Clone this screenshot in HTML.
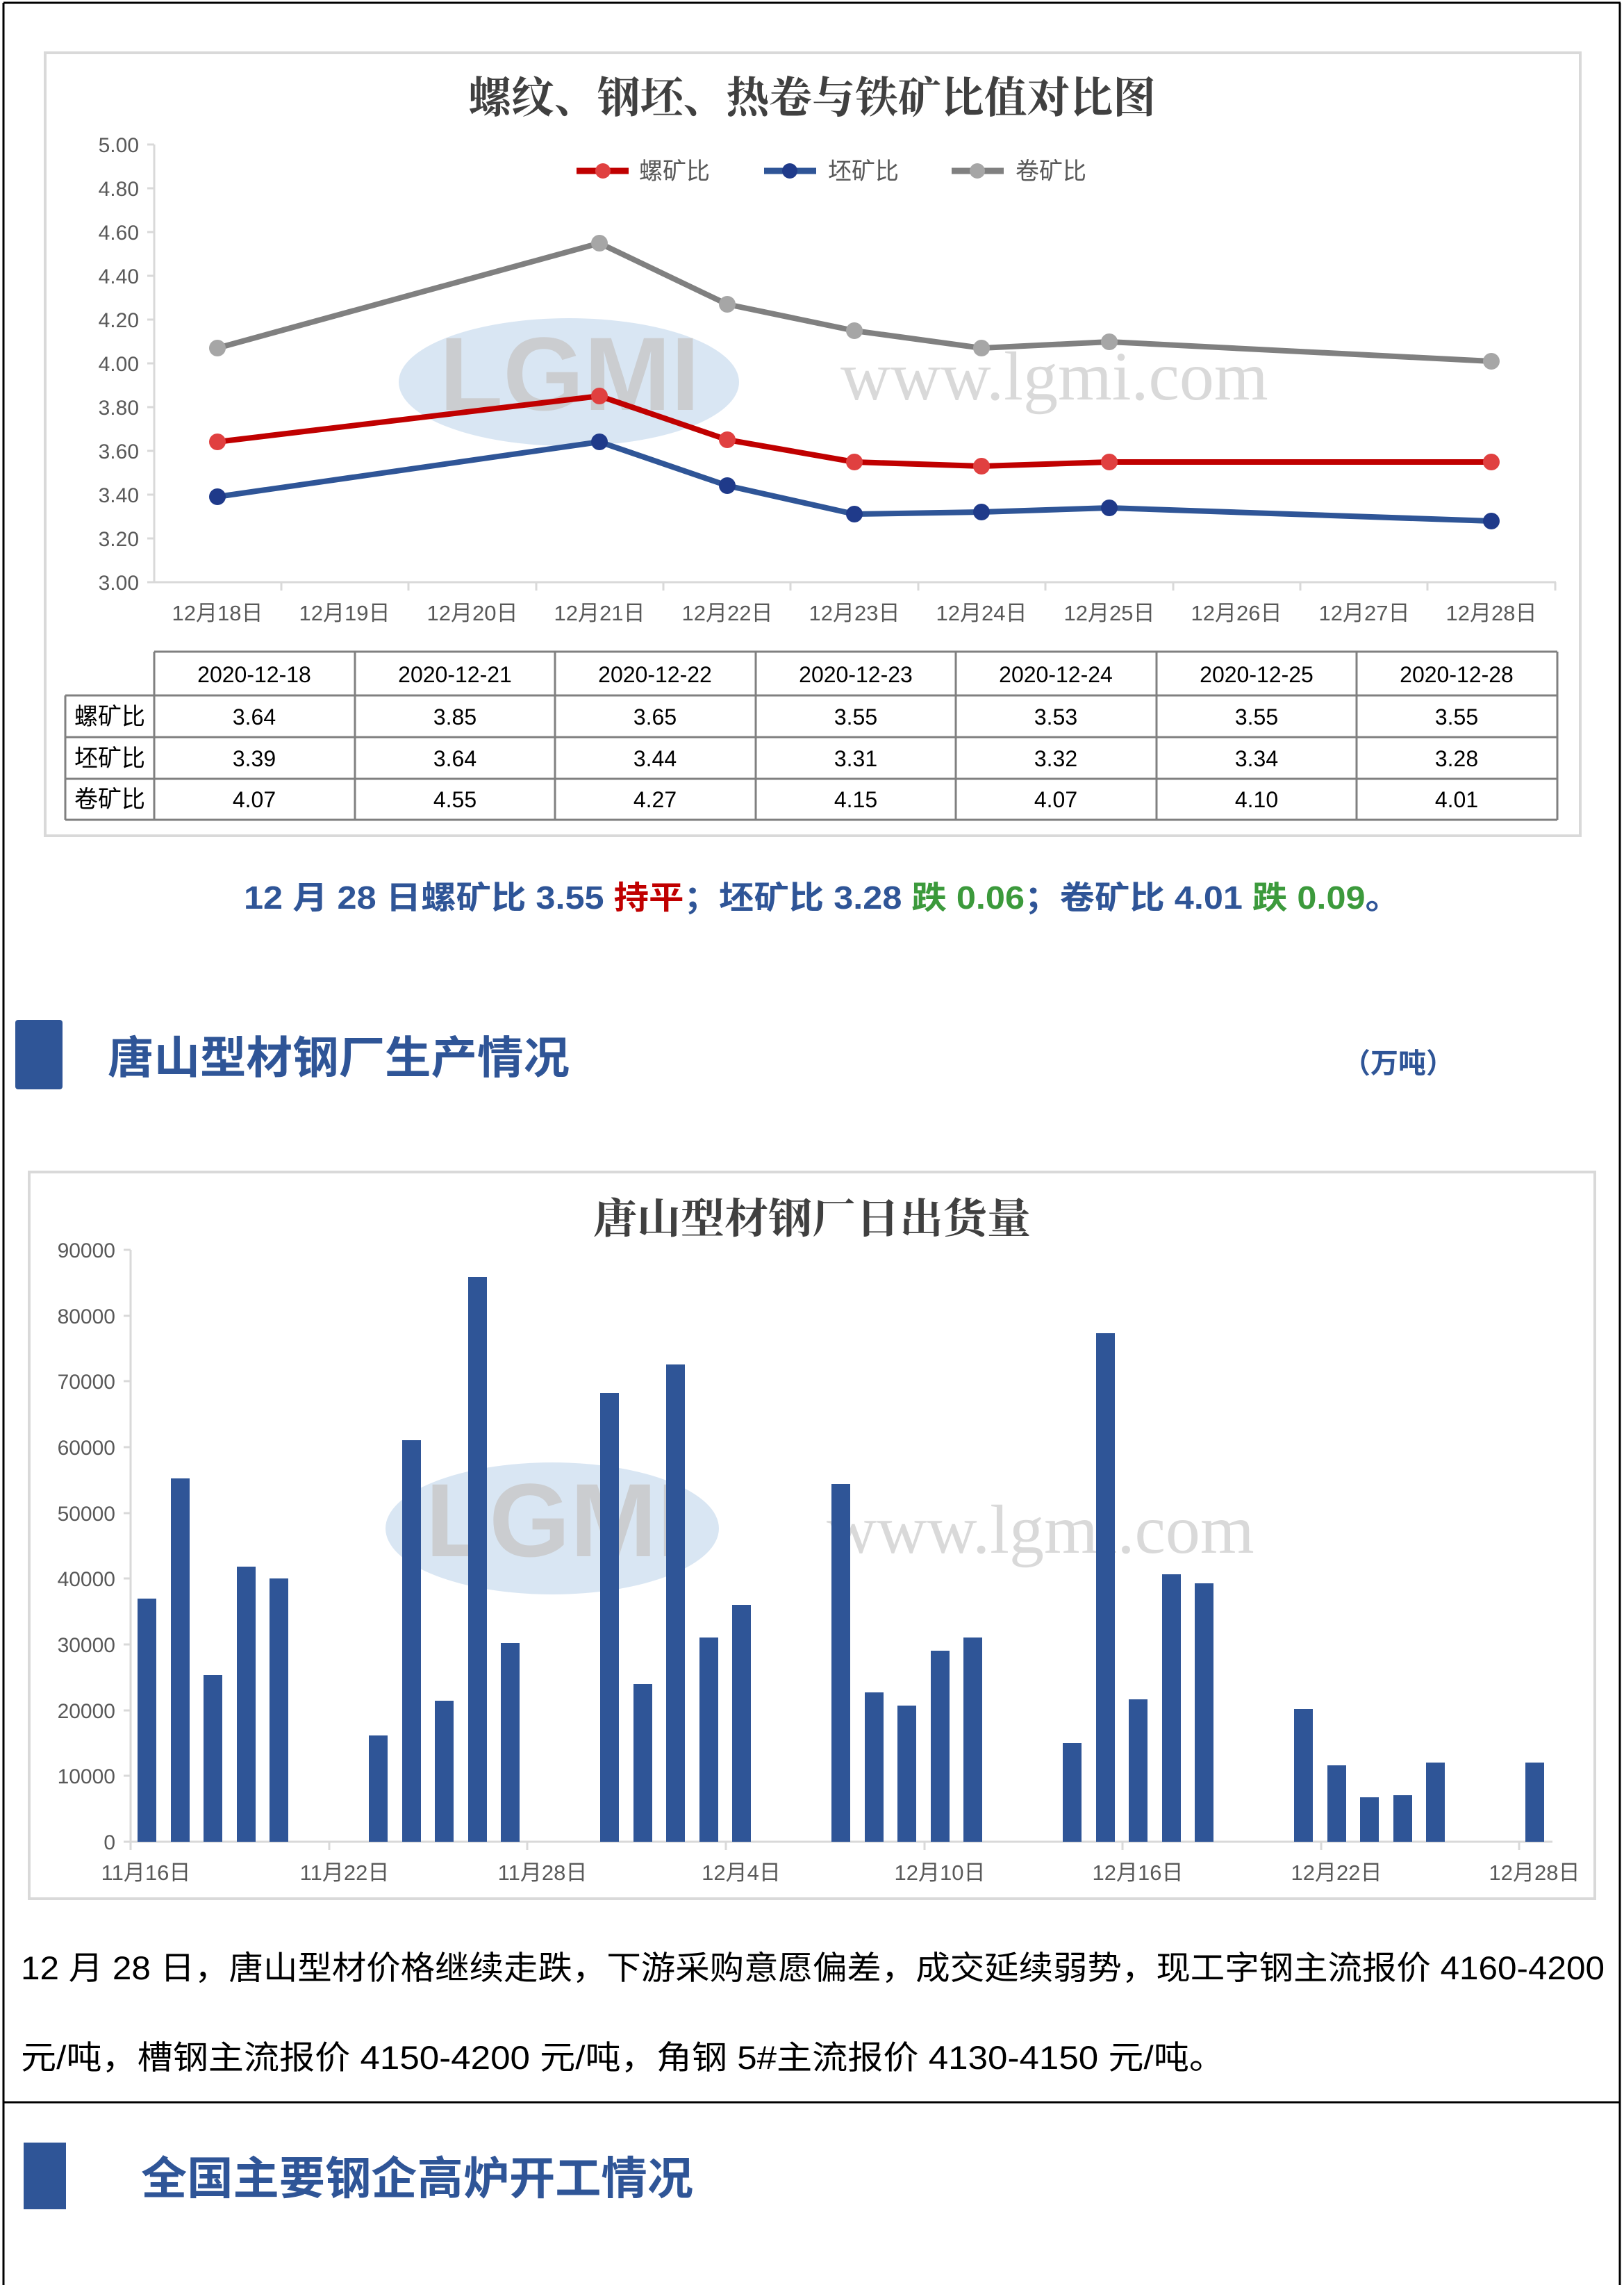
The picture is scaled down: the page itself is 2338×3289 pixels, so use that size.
<!DOCTYPE html>
<html><head><meta charset="utf-8"><style>
html,body{margin:0;padding:0;background:#fff;}
svg{display:block;}
</style></head><body>
<svg width="2338" height="3289" viewBox="0 0 2338 3289" xmlns="http://www.w3.org/2000/svg" font-family="Liberation Sans, Noto Sans CJK SC, sans-serif">
<line x1="5" y1="4" x2="2333" y2="4" stroke="#000" stroke-width="3"/>
<line x1="5" y1="4" x2="5" y2="3289" stroke="#000" stroke-width="3"/>
<line x1="2332" y1="4" x2="2332" y2="3289" stroke="#000" stroke-width="3"/>
<line x1="5" y1="3026" x2="2333" y2="3026" stroke="#000" stroke-width="3"/>

<!-- CHART 1 -->
<rect x="65" y="76" width="2210" height="1127" fill="#fff" stroke="#d9d9d9" stroke-width="4"/>
<text x="1169" y="162" font-size="62" font-weight="bold" text-anchor="middle" fill="#404040" font-family="Noto Serif CJK SC, serif" textLength="990" lengthAdjust="spacingAndGlyphs">螺纹、钢坯、热卷与铁矿比值对比图</text>
<ellipse cx="819" cy="550" rx="245" ry="92" fill="#cfe0f0" opacity="0.8"/>
<text x="820" y="590" font-size="150" text-anchor="middle" fill="#c8c8c8" font-weight="bold" opacity="0.8">LGMI</text>
<text x="1210" y="575" font-size="100" fill="#d0d0d0" font-family="Liberation Serif, serif" opacity="0.8">www.lgmi.com</text>
<g stroke="#d9d9d9" stroke-width="3">
<line x1="222" y1="208" x2="222" y2="838"/>
<line x1="222" y1="838" x2="2240" y2="838"/>
<line x1="212" y1="208" x2="222" y2="208"/><line x1="212" y1="271" x2="222" y2="271"/><line x1="212" y1="334" x2="222" y2="334"/><line x1="212" y1="397" x2="222" y2="397"/><line x1="212" y1="460" x2="222" y2="460"/><line x1="212" y1="523" x2="222" y2="523"/><line x1="212" y1="586" x2="222" y2="586"/><line x1="212" y1="649" x2="222" y2="649"/><line x1="212" y1="712" x2="222" y2="712"/><line x1="212" y1="775" x2="222" y2="775"/><line x1="212" y1="838" x2="222" y2="838"/>
<line x1="405" y1="838" x2="405" y2="850"/><line x1="588" y1="838" x2="588" y2="850"/><line x1="772" y1="838" x2="772" y2="850"/><line x1="955" y1="838" x2="955" y2="850"/><line x1="1138" y1="838" x2="1138" y2="850"/><line x1="1322" y1="838" x2="1322" y2="850"/><line x1="1505" y1="838" x2="1505" y2="850"/><line x1="1689" y1="838" x2="1689" y2="850"/><line x1="1872" y1="838" x2="1872" y2="850"/><line x1="2055" y1="838" x2="2055" y2="850"/><line x1="2239" y1="838" x2="2239" y2="850"/>
</g>
<g font-size="30" fill="#595959" text-anchor="end">
<text x="200" y="219">5.00</text><text x="200" y="282">4.80</text><text x="200" y="345">4.60</text><text x="200" y="408">4.40</text><text x="200" y="471">4.20</text><text x="200" y="534">4.00</text><text x="200" y="597">3.80</text><text x="200" y="660">3.60</text><text x="200" y="723">3.40</text><text x="200" y="786">3.20</text><text x="200" y="849">3.00</text>
</g>
<g font-size="31" fill="#595959" text-anchor="middle">
<text x="313" y="893">12月18日</text><text x="496" y="893">12月19日</text><text x="680" y="893">12月20日</text><text x="863" y="893">12月21日</text><text x="1047" y="893">12月22日</text><text x="1230" y="893">12月23日</text><text x="1413" y="893">12月24日</text><text x="1597" y="893">12月25日</text><text x="1780" y="893">12月26日</text><text x="1964" y="893">12月27日</text><text x="2147" y="893">12月28日</text>
</g>
<g font-size="34" fill="#595959">
<line x1="830" y1="246" x2="905" y2="246" stroke="#c00000" stroke-width="9"/><circle cx="868" cy="246" r="11" fill="#e04040"/><text x="920" y="258">螺矿比</text>
<line x1="1100" y1="246" x2="1175" y2="246" stroke="#2f5597" stroke-width="9"/><circle cx="1137" cy="246" r="11" fill="#1f3a8a"/><text x="1192" y="258">坯矿比</text>
<line x1="1370" y1="246" x2="1445" y2="246" stroke="#808080" stroke-width="9"/><circle cx="1407" cy="246" r="11" fill="#a6a6a6"/><text x="1462" y="258">卷矿比</text>
</g>
<polyline fill="none" stroke="#808080" stroke-width="8" stroke-linejoin="round" points="313,501 863,350 1047,438 1230,476 1413,501 1597,492 2147,520"/>
<polyline fill="none" stroke="#c00000" stroke-width="8" stroke-linejoin="round" points="313,636 863,570 1047,633 1230,665 1413,671 1597,665 2147,665"/>
<polyline fill="none" stroke="#2f5597" stroke-width="8" stroke-linejoin="round" points="313,715 863,636 1047,699 1230,740 1413,737 1597,731 2147,750"/>
<g fill="#a6a6a6"><circle cx="313" cy="501" r="12"/><circle cx="863" cy="350" r="12"/><circle cx="1047" cy="438" r="12"/><circle cx="1230" cy="476" r="12"/><circle cx="1413" cy="501" r="12"/><circle cx="1597" cy="492" r="12"/><circle cx="2147" cy="520" r="12"/></g>
<g fill="#e04040"><circle cx="313" cy="636" r="12"/><circle cx="863" cy="570" r="12"/><circle cx="1047" cy="633" r="12"/><circle cx="1230" cy="665" r="12"/><circle cx="1413" cy="671" r="12"/><circle cx="1597" cy="665" r="12"/><circle cx="2147" cy="665" r="12"/></g>
<g fill="#1f3a8a"><circle cx="313" cy="715" r="12"/><circle cx="863" cy="636" r="12"/><circle cx="1047" cy="699" r="12"/><circle cx="1230" cy="740" r="12"/><circle cx="1413" cy="737" r="12"/><circle cx="1597" cy="731" r="12"/><circle cx="2147" cy="750" r="12"/></g>
<g stroke="#808080" stroke-width="3" fill="none">
<line x1="222" y1="938" x2="2242" y2="938"/>
<line x1="94" y1="1001" x2="2242" y2="1001"/>
<line x1="94" y1="1061" x2="2242" y2="1061"/>
<line x1="94" y1="1121" x2="2242" y2="1121"/>
<line x1="94" y1="1180" x2="2242" y2="1180"/>
<line x1="94" y1="1001" x2="94" y2="1180"/>
<line x1="222" y1="938" x2="222" y2="1180"/><line x1="511" y1="938" x2="511" y2="1180"/><line x1="799" y1="938" x2="799" y2="1180"/><line x1="1088" y1="938" x2="1088" y2="1180"/><line x1="1376" y1="938" x2="1376" y2="1180"/><line x1="1665" y1="938" x2="1665" y2="1180"/><line x1="1953" y1="938" x2="1953" y2="1180"/><line x1="2242" y1="938" x2="2242" y2="1180"/>
</g>
<g font-size="32" fill="#000" text-anchor="middle">
<text x="366" y="982">2020-12-18</text><text x="655" y="982">2020-12-21</text><text x="943" y="982">2020-12-22</text><text x="1232" y="982">2020-12-23</text><text x="1520" y="982">2020-12-24</text><text x="1809" y="982">2020-12-25</text><text x="2097" y="982">2020-12-28</text>
<text x="366" y="1043">3.64</text><text x="655" y="1043">3.85</text><text x="943" y="1043">3.65</text><text x="1232" y="1043">3.55</text><text x="1520" y="1043">3.53</text><text x="1809" y="1043">3.55</text><text x="2097" y="1043">3.55</text>
<text x="366" y="1103">3.39</text><text x="655" y="1103">3.64</text><text x="943" y="1103">3.44</text><text x="1232" y="1103">3.31</text><text x="1520" y="1103">3.32</text><text x="1809" y="1103">3.34</text><text x="2097" y="1103">3.28</text>
<text x="366" y="1162">4.07</text><text x="655" y="1162">4.55</text><text x="943" y="1162">4.27</text><text x="1232" y="1162">4.15</text><text x="1520" y="1162">4.07</text><text x="1809" y="1162">4.10</text><text x="2097" y="1162">4.01</text>
<text x="158" y="1043" font-size="34">螺矿比</text><text x="158" y="1103" font-size="34">坯矿比</text><text x="158" y="1162" font-size="34">卷矿比</text>
</g>

<text x="351" y="1308" font-size="46" font-weight="bold" fill="#2f5597" textLength="1665" lengthAdjust="spacingAndGlyphs">12 月 28 日螺矿比 3.55 <tspan fill="#c00000">持平</tspan>；坯矿比 3.28 <tspan fill="#3c9a3c">跌 0.06</tspan>；卷矿比 4.01 <tspan fill="#3c9a3c">跌 0.09</tspan>。</text>

<rect x="22" y="1468" width="68" height="100" rx="4" fill="#2f5597"/>
<text x="155" y="1545" font-size="64" font-weight="bold" fill="#2f5597" textLength="665" lengthAdjust="spacingAndGlyphs">唐山型材钢厂生产情况</text>
<text x="1933" y="1544" font-size="40" font-weight="bold" fill="#2f5597">（万吨）</text>

<!-- CHART 2 -->
<rect x="42" y="1687" width="2254" height="1046" fill="#fff" stroke="#d9d9d9" stroke-width="4"/>
<text x="1169" y="1775" font-size="60" font-weight="bold" text-anchor="middle" fill="#404040" font-family="Noto Serif CJK SC, serif" textLength="630" lengthAdjust="spacingAndGlyphs">唐山型材钢厂日出货量</text>
<ellipse cx="795" cy="2200" rx="240" ry="95" fill="#cfe0f0" opacity="0.8"/>
<text x="800" y="2240" font-size="150" text-anchor="middle" fill="#c8c8c8" font-weight="bold" opacity="0.8">LGMI</text>
<text x="1190" y="2235" font-size="100" fill="#d0d0d0" font-family="Liberation Serif, serif" opacity="0.8">www.lgmi.com</text>
<g stroke="#d9d9d9" stroke-width="3">
<line x1="188" y1="1799" x2="188" y2="2651"/>
<line x1="188" y1="2651" x2="2235" y2="2651"/>
<line x1="178" y1="1799" x2="188" y2="1799"/><line x1="178" y1="1894" x2="188" y2="1894"/><line x1="178" y1="1988" x2="188" y2="1988"/><line x1="178" y1="2083" x2="188" y2="2083"/><line x1="178" y1="2178" x2="188" y2="2178"/><line x1="178" y1="2272" x2="188" y2="2272"/><line x1="178" y1="2367" x2="188" y2="2367"/><line x1="178" y1="2462" x2="188" y2="2462"/><line x1="178" y1="2556" x2="188" y2="2556"/><line x1="178" y1="2651" x2="188" y2="2651"/>
<line x1="188" y1="2651" x2="188" y2="2663"/><line x1="474" y1="2651" x2="474" y2="2663"/><line x1="759" y1="2651" x2="759" y2="2663"/><line x1="1045" y1="2651" x2="1045" y2="2663"/><line x1="1331" y1="2651" x2="1331" y2="2663"/><line x1="1616" y1="2651" x2="1616" y2="2663"/><line x1="1902" y1="2651" x2="1902" y2="2663"/><line x1="2187" y1="2651" x2="2187" y2="2663"/>
</g>
<g font-size="30" fill="#595959" text-anchor="end">
<text x="166" y="1810">90000</text><text x="166" y="1905">80000</text><text x="166" y="1999">70000</text><text x="166" y="2094">60000</text><text x="166" y="2189">50000</text><text x="166" y="2283">40000</text><text x="166" y="2378">30000</text><text x="166" y="2473">20000</text><text x="166" y="2567">10000</text><text x="166" y="2662">0</text>
</g>
<g font-size="31" fill="#595959" text-anchor="middle">
<text x="210" y="2706">11月16日</text><text x="496" y="2706">11月22日</text><text x="781" y="2706">11月28日</text><text x="1067" y="2706">12月4日</text><text x="1353" y="2706">12月10日</text><text x="1638" y="2706">12月16日</text><text x="1924" y="2706">12月22日</text><text x="2209" y="2706">12月28日</text>
</g>
<g fill="#2f5597">
<rect x="198" y="2301" width="27" height="350"/>
<rect x="246" y="2128" width="27" height="523"/>
<rect x="293" y="2411" width="27" height="240"/>
<rect x="341" y="2255" width="27" height="396"/>
<rect x="388" y="2272" width="27" height="379"/>
<rect x="531" y="2498" width="27" height="153"/>
<rect x="579" y="2073" width="27" height="578"/>
<rect x="626" y="2448" width="27" height="203"/>
<rect x="674" y="1838" width="27" height="813"/>
<rect x="721" y="2365" width="27" height="286"/>
<rect x="864" y="2005" width="27" height="646"/>
<rect x="912" y="2424" width="27" height="227"/>
<rect x="959" y="1964" width="27" height="687"/>
<rect x="1007" y="2357" width="27" height="294"/>
<rect x="1054" y="2310" width="27" height="341"/>
<rect x="1197" y="2136" width="27" height="515"/>
<rect x="1245" y="2436" width="27" height="215"/>
<rect x="1292" y="2455" width="27" height="196"/>
<rect x="1340" y="2376" width="27" height="275"/>
<rect x="1387" y="2357" width="27" height="294"/>
<rect x="1530" y="2509" width="27" height="142"/>
<rect x="1578" y="1919" width="27" height="732"/>
<rect x="1625" y="2446" width="27" height="205"/>
<rect x="1673" y="2266" width="27" height="385"/>
<rect x="1720" y="2279" width="27" height="372"/>
<rect x="1863" y="2460" width="27" height="191"/>
<rect x="1911" y="2541" width="27" height="110"/>
<rect x="1958" y="2587" width="27" height="64"/>
<rect x="2006" y="2584" width="27" height="67"/>
<rect x="2053" y="2537" width="27" height="114"/>
<rect x="2196" y="2537" width="27" height="114"/>
</g>

<text x="30" y="2849" font-size="47" fill="#000" textLength="2280" lengthAdjust="spacingAndGlyphs">12 月 28 日，唐山型材价格继续走跌，下游采购意愿偏差，成交延续弱势，现工字钢主流报价 4160-4200</text>
<text x="30" y="2978" font-size="47" fill="#000" textLength="1733" lengthAdjust="spacingAndGlyphs">元/吨，槽钢主流报价 4150-4200 元/吨，角钢 5#主流报价 4130-4150 元/吨。</text>

<rect x="34" y="3084" width="61" height="96" fill="#2f5597"/>
<text x="203" y="3158" font-size="65" font-weight="bold" fill="#2f5597" textLength="795" lengthAdjust="spacingAndGlyphs">全国主要钢企高炉开工情况</text>
</svg>
</body></html>
